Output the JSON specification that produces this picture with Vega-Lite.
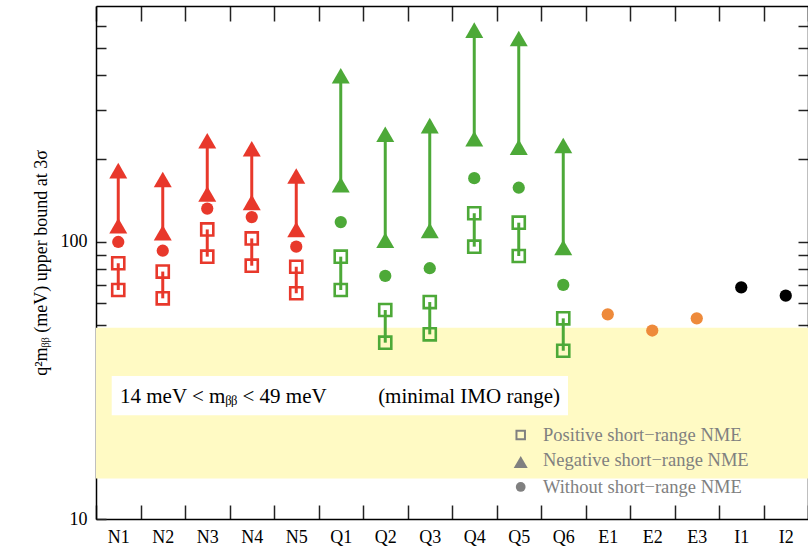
{
  "$schema": "https://vega.github.io/schema/vega-lite/v6.json",
  "autosize": "none",
  "width": 712,
  "height": 513,
  "padding": {"left": 96, "top": 6, "right": 0, "bottom": 30},
  "background": "white",
  "datasets": {
    "m": [
      {"c": "N1", "g": "N", "k": "P", "v": 67.1}, {"c": "N1", "g": "N", "k": "P", "v": 83.8}, {"c": "N1", "g": "N", "k": "T", "v": 114.5}, {"c": "N1", "g": "N", "k": "T", "v": 181}, {"c": "N1", "g": "N", "k": "W", "v": 100},
      {"c": "N2", "g": "N", "k": "P", "v": 62.6}, {"c": "N2", "g": "N", "k": "P", "v": 78.2}, {"c": "N2", "g": "N", "k": "T", "v": 108}, {"c": "N2", "g": "N", "k": "T", "v": 168}, {"c": "N2", "g": "N", "k": "W", "v": 93},
      {"c": "N3", "g": "N", "k": "P", "v": 88.5}, {"c": "N3", "g": "N", "k": "P", "v": 111}, {"c": "N3", "g": "N", "k": "T", "v": 149}, {"c": "N3", "g": "N", "k": "T", "v": 232}, {"c": "N3", "g": "N", "k": "W", "v": 132},
      {"c": "N4", "g": "N", "k": "P", "v": 82.1}, {"c": "N4", "g": "N", "k": "P", "v": 103}, {"c": "N4", "g": "N", "k": "T", "v": 139}, {"c": "N4", "g": "N", "k": "T", "v": 217}, {"c": "N4", "g": "N", "k": "W", "v": 123},
      {"c": "N5", "g": "N", "k": "P", "v": 65.3}, {"c": "N5", "g": "N", "k": "P", "v": 81.4}, {"c": "N5", "g": "N", "k": "T", "v": 111}, {"c": "N5", "g": "N", "k": "T", "v": 173}, {"c": "N5", "g": "N", "k": "W", "v": 96.2},
      {"c": "Q1", "g": "Q", "k": "P", "v": 67.1}, {"c": "Q1", "g": "Q", "k": "P", "v": 88.5}, {"c": "Q1", "g": "Q", "k": "T", "v": 161}, {"c": "Q1", "g": "Q", "k": "T", "v": 398}, {"c": "Q1", "g": "Q", "k": "W", "v": 118},
      {"c": "Q2", "g": "Q", "k": "P", "v": 43.3}, {"c": "Q2", "g": "Q", "k": "P", "v": 56.8}, {"c": "Q2", "g": "Q", "k": "T", "v": 101.5}, {"c": "Q2", "g": "Q", "k": "T", "v": 245}, {"c": "Q2", "g": "Q", "k": "W", "v": 75.4},
      {"c": "Q3", "g": "Q", "k": "P", "v": 46.4}, {"c": "Q3", "g": "Q", "k": "P", "v": 60.7}, {"c": "Q3", "g": "Q", "k": "T", "v": 110}, {"c": "Q3", "g": "Q", "k": "T", "v": 263}, {"c": "Q3", "g": "Q", "k": "W", "v": 80.4},
      {"c": "Q4", "g": "Q", "k": "P", "v": 96.2}, {"c": "Q4", "g": "Q", "k": "P", "v": 127}, {"c": "Q4", "g": "Q", "k": "T", "v": 236}, {"c": "Q4", "g": "Q", "k": "T", "v": 582}, {"c": "Q4", "g": "Q", "k": "W", "v": 170},
      {"c": "Q5", "g": "Q", "k": "P", "v": 89}, {"c": "Q5", "g": "Q", "k": "P", "v": 117.4}, {"c": "Q5", "g": "Q", "k": "T", "v": 220}, {"c": "Q5", "g": "Q", "k": "T", "v": 543}, {"c": "Q5", "g": "Q", "k": "W", "v": 157},
      {"c": "Q6", "g": "Q", "k": "P", "v": 40.5}, {"c": "Q6", "g": "Q", "k": "P", "v": 53}, {"c": "Q6", "g": "Q", "k": "T", "v": 95.5}, {"c": "Q6", "g": "Q", "k": "T", "v": 223}, {"c": "Q6", "g": "Q", "k": "W", "v": 70},
      {"c": "E1", "g": "E", "k": "W", "v": 54.8},
      {"c": "E2", "g": "E", "k": "W", "v": 47.9},
      {"c": "E3", "g": "E", "k": "W", "v": 53},
      {"c": "I1", "g": "I", "k": "W", "v": 68.6},
      {"c": "I2", "g": "I", "k": "W", "v": 64}
    ],
    "leg": [
      {"c": "Q5", "lc": "Q6", "k": "P", "v": 20.1, "tv": 20.1, "t": "Positive short−range NME"},
      {"c": "Q5", "lc": "Q6", "k": "T", "v": 16.06, "tv": 16.3, "t": "Negative short−range NME"},
      {"c": "Q5", "lc": "Q6", "k": "W", "v": 13.05, "tv": 13.05, "t": "Without short−range NME"}
    ]
  },
  "data": {"name": "m"},
  "layer": [
    {
      "data": {"values": [{"lo": 14, "hi": 49}]},
      "mark": {"type": "rect", "fill": "#FFFAC4"},
      "encoding": {
        "y": {"field": "lo", "type": "quantitative", "axis": null},
        "y2": {"field": "hi"}
      }
    },
    {
      "data": {"values": [{"x0": "N1", "x1": "Q6", "lo": 23.7, "hi": 32.8}]},
      "mark": {"type": "rect", "fill": "white"},
      "encoding": {
        "x": {"field": "x0", "type": "nominal", "bandPosition": 0.353, "axis": null},
        "x2": {"field": "x1", "bandPosition": 0.607},
        "y": {"field": "lo", "type": "quantitative", "axis": null},
        "y2": {"field": "hi"}
      }
    },
    {
      "data": {"values": [{"c": "N1", "v": 27.6, "t": "14 meV < mᵦᵦ < 49 meV"}]},
      "mark": {"type": "text", "align": "left", "baseline": "middle", "font": "Liberation Serif", "fontSize": 21, "color": "black"},
      "encoding": {
        "x": {"field": "c", "type": "nominal", "bandPosition": 0.54, "axis": null},
        "y": {"field": "v", "type": "quantitative", "axis": null},
        "text": {"field": "t"}
      }
    },
    {
      "data": {"values": [{"c": "Q2", "v": 27.6, "t": "(minimal IMO range)"}]},
      "mark": {"type": "text", "align": "left", "baseline": "middle", "font": "Liberation Serif", "fontSize": 21, "color": "black"},
      "encoding": {
        "x": {"field": "c", "type": "nominal", "bandPosition": 0.34, "axis": null},
        "y": {"field": "v", "type": "quantitative", "axis": null},
        "text": {"field": "t"}
      }
    },
    {
      "transform": [
        {"filter": "datum.k != 'W'"},
        {"aggregate": [{"op": "min", "field": "v", "as": "lo"}, {"op": "max", "field": "v", "as": "hi"}], "groupby": ["c", "g", "k"]}
      ],
      "mark": {"type": "rule", "strokeWidth": 3},
      "encoding": {
        "x": {
          "field": "c", "type": "nominal",
          "scale": {"domain": ["N1","N2","N3","N4","N5","Q1","Q2","Q3","Q4","Q5","Q6","E1","E2","E3","I1","I2"], "paddingInner": 0, "paddingOuter": 0},
          "axis": {"orient": "bottom", "title": null, "tickBand": "extent", "tickSize": -14, "labelAngle": 0, "labelPadding": 23}
        },
        "y": {
          "field": "lo", "type": "quantitative",
          "scale": {"type": "log", "domain": [10, 711], "nice": false},
          "axis": {
            "orient": "left",
            "title": "q²mᵦᵦ (meV) upper bound at 3σ",
            "values": [10,20,30,40,50,60,70,80,90,100,200,300,400,500,600],
            "labelExpr": "datum.value == 10 || datum.value == 100 ? datum.value : ''",
            "tickSize": -10, "labelPadding": 19, "titlePadding": 10
          }
        },
        "y2": {"field": "hi"},
        "color": {"field": "g", "type": "nominal", "scale": {"domain": ["N","Q","E","I"], "range": ["#E8382B","#4DA938","#EE8A3B","#000000"]}, "legend": null}
      }
    },
    {
      "transform": [{"filter": "datum.k == 'P'"}],
      "mark": {"type": "point", "shape": "square", "filled": false, "strokeWidth": 2.6, "size": 146, "opacity": 1},
      "encoding": {
        "x": {"field": "c", "type": "nominal", "axis": null},
        "y": {"field": "v", "type": "quantitative", "axis": null},
        "color": {"field": "g", "type": "nominal", "legend": null}
      }
    },
    {
      "transform": [{"filter": "datum.k == 'T'"}],
      "mark": {"type": "point", "shape": "triangle-up", "filled": true, "size": 324, "opacity": 1},
      "encoding": {
        "x": {"field": "c", "type": "nominal", "axis": null},
        "y": {"field": "v", "type": "quantitative", "axis": null},
        "color": {"field": "g", "type": "nominal", "legend": null}
      }
    },
    {
      "transform": [{"filter": "datum.k == 'W'"}],
      "mark": {"type": "point", "shape": "circle", "filled": true, "size": 150, "opacity": 1},
      "encoding": {
        "x": {"field": "c", "type": "nominal", "axis": null},
        "y": {"field": "v", "type": "quantitative", "axis": null},
        "color": {"field": "g", "type": "nominal", "legend": null}
      }
    },
    {
      "data": {"name": "leg"},
      "transform": [{"filter": "datum.k == 'P'"}],
      "mark": {"type": "point", "shape": "square", "filled": false, "stroke": "#808080", "strokeWidth": 2, "size": 72, "opacity": 1},
      "encoding": {
        "x": {"field": "c", "type": "nominal", "bandPosition": 0.544, "axis": null},
        "y": {"field": "v", "type": "quantitative", "axis": null}
      }
    },
    {
      "data": {"name": "leg"},
      "transform": [{"filter": "datum.k == 'T'"}],
      "mark": {"type": "point", "shape": "triangle-up", "filled": true, "fill": "#808080", "size": 196, "opacity": 1},
      "encoding": {
        "x": {"field": "c", "type": "nominal", "bandPosition": 0.544, "axis": null},
        "y": {"field": "v", "type": "quantitative", "axis": null}
      }
    },
    {
      "data": {"name": "leg"},
      "transform": [{"filter": "datum.k == 'W'"}],
      "mark": {"type": "point", "shape": "circle", "filled": true, "fill": "#808080", "size": 95, "opacity": 1},
      "encoding": {
        "x": {"field": "c", "type": "nominal", "bandPosition": 0.544, "axis": null},
        "y": {"field": "v", "type": "quantitative", "axis": null}
      }
    },
    {
      "data": {"name": "leg"},
      "mark": {"type": "text", "align": "left", "baseline": "middle", "font": "Liberation Serif", "fontSize": 18.5, "color": "#808080"},
      "encoding": {
        "x": {"field": "lc", "type": "nominal", "bandPosition": 0.045, "axis": null},
        "y": {"field": "tv", "type": "quantitative", "axis": null},
        "text": {"field": "t"}
      }
    },
    {
      "mark": {"type": "point", "opacity": 0},
      "encoding": {
        "x": {"field": "c", "type": "nominal", "axis": {"orient": "top", "labels": false, "title": null, "tickBand": "extent", "tickSize": -15}},
        "y": {"field": "v", "type": "quantitative", "axis": {"orient": "right", "labels": false, "title": null, "values": [20,30,40,50,60,70,80,90,100,200,300,400,500,600], "tickSize": -10}}
      }
    }
  ],
  "config": {
    "view": {"stroke": null},
    "font": "Liberation Serif",
    "axis": {
      "domainColor": "black", "domainWidth": 1.5, "tickColor": "#222", "tickWidth": 1.5, "grid": false,
      "labelFont": "Liberation Serif", "labelFontSize": 18, "labelColor": "black",
      "titleFont": "Liberation Serif", "titleFontSize": 18, "titleFontWeight": "normal", "titleColor": "black"
    }
  }
}
